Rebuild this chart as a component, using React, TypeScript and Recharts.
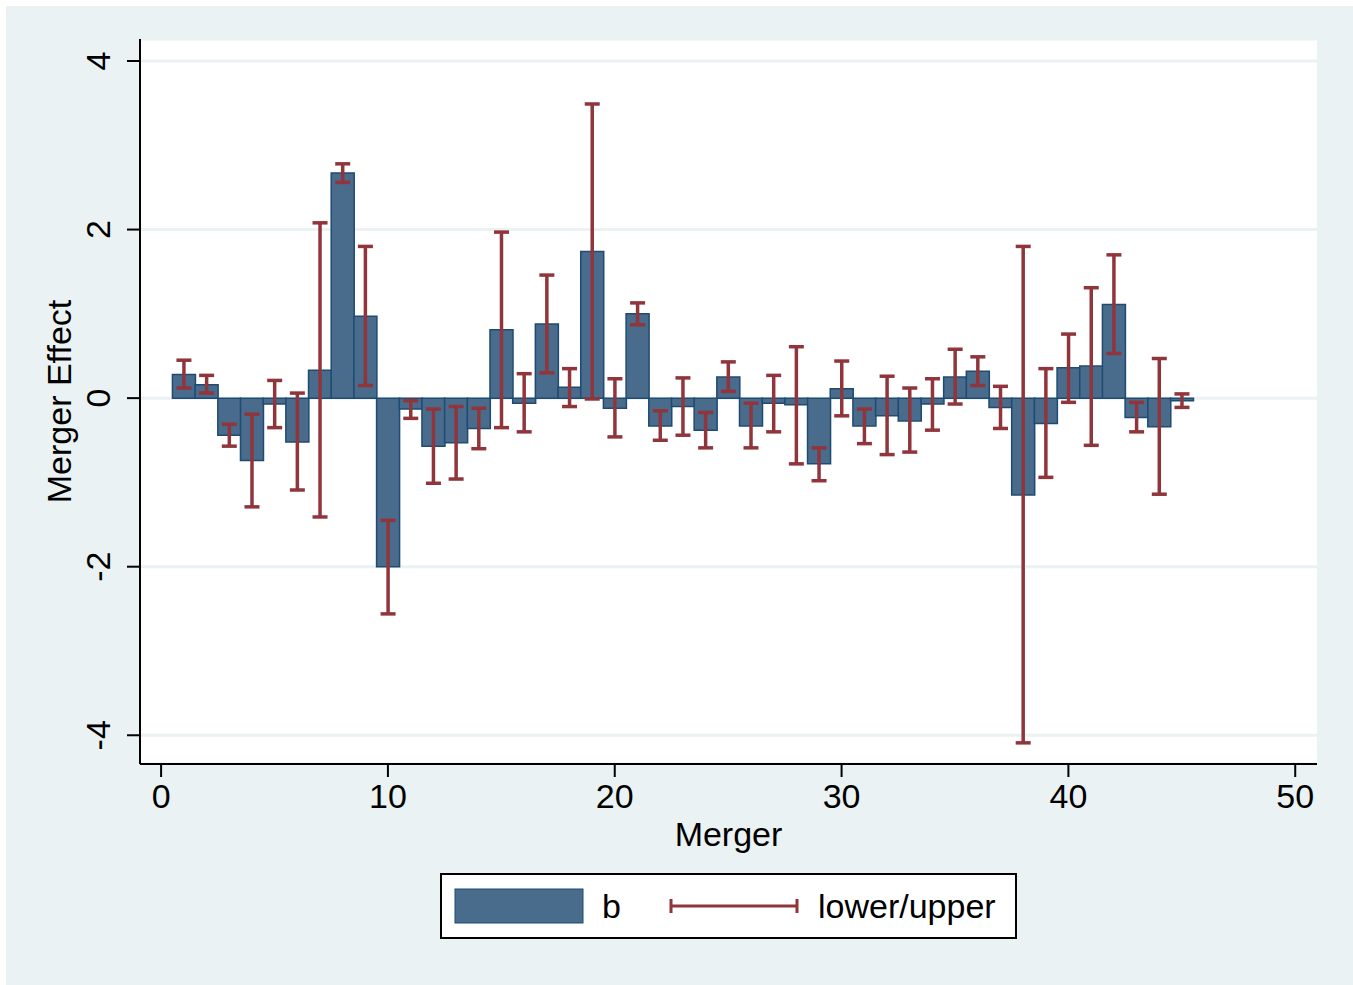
import { Bar, CartesianGrid, ComposedChart, ErrorBar, XAxis, YAxis } from "recharts";

const MERGER = [
  1, 2, 3, 4, 5, 6, 7, 8, 9, 10, 11, 12, 13, 14, 15, 16, 17, 18, 19, 20, 21, 22, 23,
  24, 25, 26, 27, 28, 29, 30, 31, 32, 33, 34, 35, 36, 37, 38, 39, 40, 41, 42, 43, 44, 45,
];
const B = [
  0.28, 0.16, -0.44, -0.74, -0.07, -0.52, 0.33, 2.67, 0.97, -2.0, -0.13, -0.57, -0.53,
  -0.36, 0.81, -0.06, 0.88, 0.13, 1.74, -0.12, 1.0, -0.33, -0.1, -0.38, 0.25, -0.33, -0.06,
  -0.08, -0.78, 0.11, -0.33, -0.21, -0.27, -0.07, 0.25, 0.32, -0.11, -1.15, -0.3, 0.36,
  0.38, 1.11, -0.23, -0.34, -0.03,
];
const LOWER = [
  0.12, 0.06, -0.57, -1.29, -0.35, -1.09, -1.41, 2.56, 0.15, -2.56, -0.24, -1.01, -0.96,
  -0.6, -0.35, -0.4, 0.3, -0.1, -0.01, -0.46, 0.87, -0.5, -0.44, -0.59, 0.08, -0.59, -0.4,
  -0.78, -0.98, -0.21, -0.54, -0.67, -0.64, -0.38, -0.07, 0.15, -0.36, -4.09, -0.94, -0.05,
  -0.56, 0.53, -0.4, -1.14, -0.11,
];
const UPPER = [
  0.45, 0.27, -0.31, -0.19, 0.21, 0.06, 2.08, 2.78, 1.8, -1.45, -0.03, -0.13, -0.1, -0.12,
  1.97, 0.29, 1.46, 0.35, 3.49, 0.23, 1.13, -0.15, 0.24, -0.17, 0.43, -0.06, 0.27, 0.61,
  -0.59, 0.44, -0.13, 0.26, 0.12, 0.23, 0.58, 0.49, 0.14, 1.8, 0.35, 0.76, 1.31, 1.7, -0.05,
  0.47, 0.05,
];
const X_TICKS = [0, 10, 20, 30, 40, 50];
const Y_TICKS = [-4, -2, 0, 2, 4];

const FONT = "'Liberation Sans', Arial, sans-serif";
const FS = 34;
const BG = "#eaf2f3";
const BAR_FILL = "#496b8c";
const BAR_EDGE = "#1f4b72";
const CI_RED = "#90353b";

// ErrorBar wants offsets from the bar value, not absolute bounds
const rows = MERGER.map((m, i) => ({
  merger: m,
  b: B[i],
  ci: [B[i] - LOWER[i], UPPER[i] - B[i]],
}));

function XTick({ x, y, payload }: any) {
  return (
    <text x={x} y={y} dy="0.71em" textAnchor="middle" fontSize={FS} fill="#000" fontFamily={FONT}>
      {payload.value}
    </text>
  );
}

function YTick({ x, y, payload }: any) {
  return (
    <text
      x={x}
      y={y}
      transform={`rotate(-90 ${x} ${y})`}
      textAnchor="middle"
      fontSize={FS}
      fill="#000"
      fontFamily={FONT}
    >
      {payload.value}
    </text>
  );
}

function Legend() {
  return (
    <svg width={577} height={66} style={{ position: "absolute", left: 440, top: 873 }}>
      <rect x={1} y={1} width={575} height={64} fill="#fff" stroke="#000" strokeWidth={2} />
      <rect x={15} y={16} width={128} height={34} fill={BAR_FILL} stroke={BAR_EDGE} strokeWidth={1} />
      <text x={162} y={45} fontSize={FS} fontFamily={FONT} fill="#000">
        b
      </text>
      <line x1={230} y1={33} x2={358} y2={33} stroke={CI_RED} strokeWidth={3} />
      <line x1={231} y1={26} x2={231} y2={40} stroke={CI_RED} strokeWidth={3} />
      <line x1={357} y1={26} x2={357} y2={40} stroke={CI_RED} strokeWidth={3} />
      <text x={378} y={45} fontSize={FS} fontFamily={FONT} fill="#000">
        lower/upper
      </text>
    </svg>
  );
}

export default function App() {
  return (
    <div style={{ position: "absolute", left: 0, top: 0, width: 1353, height: 985, background: "#fff" }}>
      <div style={{ position: "absolute", left: 6, top: 6, right: 0, bottom: 0, background: BG }} />
      <div style={{ position: "absolute", left: 0, top: 0 }}>
        <ComposedChart
          width={1353}
          height={985}
          data={rows}
          margin={{ top: 39, right: 36, left: 0, bottom: 161 }}
          barCategoryGap={0}
          barGap={0}
        >
          <CartesianGrid vertical={false} stroke={BG} strokeWidth={3} fill="#fff" />
          <XAxis
            dataKey="merger"
            type="number"
            domain={[-0.93, 50.96]}
            ticks={X_TICKS}
            allowDataOverflow
            height={60}
            tickSize={13}
            tickMargin={7}
            axisLine={{ stroke: "#000", strokeWidth: 2 }}
            tickLine={{ stroke: "#000", strokeWidth: 2 }}
            tick={<XTick />}
            label={{
              content: ({ viewBox }: any) => (
                <text
                  x={viewBox.x + viewBox.width / 2}
                  y={viewBox.y + 82}
                  textAnchor="middle"
                  fontSize={FS}
                  fontFamily={FONT}
                  fill="#000"
                >
                  Merger
                </text>
              ),
            }}
          />
          <YAxis
            type="number"
            domain={[-4.341, 4.261]}
            ticks={Y_TICKS}
            allowDataOverflow
            width={140}
            tickSize={13}
            tickMargin={17}
            axisLine={{ stroke: "#000", strokeWidth: 2 }}
            tickLine={{ stroke: "#000", strokeWidth: 2 }}
            tick={<YTick />}
            label={{
              content: ({ viewBox }: any) => {
                const cx = viewBox.x + 71;
                const cy = viewBox.y + viewBox.height / 2;
                return (
                  <text
                    x={cx}
                    y={cy}
                    transform={`rotate(-90 ${cx} ${cy})`}
                    textAnchor="middle"
                    fontSize={FS}
                    fontFamily={FONT}
                    fill="#000"
                  >
                    Merger Effect
                  </text>
                );
              },
            }}
          />
          <Bar dataKey="b" fill={BAR_FILL} stroke={BAR_EDGE} strokeWidth={1.5} isAnimationActive={false}>
            <ErrorBar dataKey="ci" direction="y" width={7.5} stroke={CI_RED} strokeWidth={3.5} />
          </Bar>
        </ComposedChart>
      </div>
      <Legend />
    </div>
  );
}
